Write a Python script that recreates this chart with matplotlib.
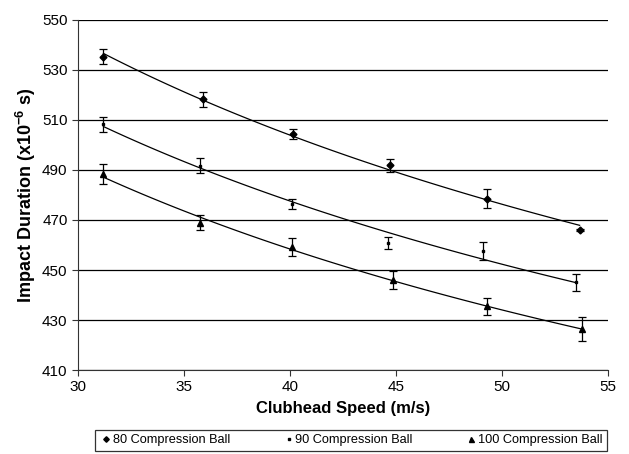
import numpy as np
import matplotlib
matplotlib.use("Agg")
import matplotlib.pyplot as plt

plt.rcParams['font.family'] = ['Liberation Sans', 'DejaVu Sans']

# данные
speed_80 = [31.2, 35.9, 40.15, 44.7, 49.3, 53.65]
dur_80 = [535.2, 518.2, 504.2, 491.8, 478.5, 465.9]
err_80 = [3.0, 3.0, 2.0, 2.5, 3.8, 0.5]

speed_90 = [31.2, 35.75, 40.1, 44.6, 49.1, 53.5]
dur_90 = [508.3, 491.6, 476.4, 460.7, 457.7, 445.1]
err_90 = [3.0, 3.0, 2.0, 2.3, 3.6, 3.3]

speed_100 = [31.2, 35.75, 40.1, 44.85, 49.3, 53.75]
dur_100 = [488.2, 468.9, 459.1, 446.0, 435.5, 426.3]
err_100 = [4.0, 3.0, 3.7, 3.7, 3.3, 4.8]

series = [
    (speed_80, dur_80, err_80, 'D', 3.5, '80 Compression Ball'),
    (speed_90, dur_90, err_90, 's', 2.0, '90 Compression Ball'),
    (speed_100, dur_100, err_100, '^', 4.5, '100 Compression Ball'),
]

fig = plt.figure(figsize=(6.29, 4.54), dpi=100)
ax = fig.add_axes([0.124, 0.185, 0.843, 0.771])

for xs, ys, es, mk, ms, label in series:
    ax.errorbar(xs, ys, yerr=es, fmt=mk, color='black', ms=ms,
                ecolor='black', elinewidth=0.9, capsize=3, capthick=0.9,
                zorder=3)
    # степенная линия тренда (как в Excel)
    b, a = np.polyfit(np.log(xs), np.log(ys), 1)
    xf = np.linspace(min(xs), max(xs), 100)
    ax.plot(xf, np.exp(a) * xf ** b, color='black', lw=0.9, zorder=2)

ax.set_xlim(30, 55)
ax.set_ylim(410, 550)
ax.set_xticks([30, 35, 40, 45, 50, 55])
ax.set_yticks(range(410, 551, 20))
ax.yaxis.grid(True, color='black', lw=0.9)
ax.set_axisbelow(True)

for s in ['top', 'right']:
    ax.spines[s].set_visible(False)
for s in ['left', 'bottom']:
    ax.spines[s].set_color('#333333')
ax.tick_params(axis='both', labelsize=11, length=4, direction='out', color='#333333')

ax.set_xlabel('Clubhead Speed (m/s)', fontsize=12, fontweight='bold', labelpad=5)
ax.set_ylabel('Impact Duration (x10$^{\\mathregular{-6}}$ s)', fontsize=13,
              fontweight='bold', labelpad=3)

leg_handles = [plt.Line2D([], [], marker=mk, ls='none', color='black', ms=ms * 0.8)
               for _, _, _, mk, ms, _ in series]
leg = fig.legend(leg_handles, [s[5] for s in series], ncol=3,
                 loc='center', bbox_to_anchor=(0.558, 0.03),
                 frameon=True, fancybox=False, edgecolor='black',
                 fontsize=9.2, handletextpad=0.0, handlelength=1.0,
                 columnspacing=4.1, borderpad=0.35)
leg.get_frame().set_linewidth(0.9)

fig.savefig('out.png', dpi=100)
